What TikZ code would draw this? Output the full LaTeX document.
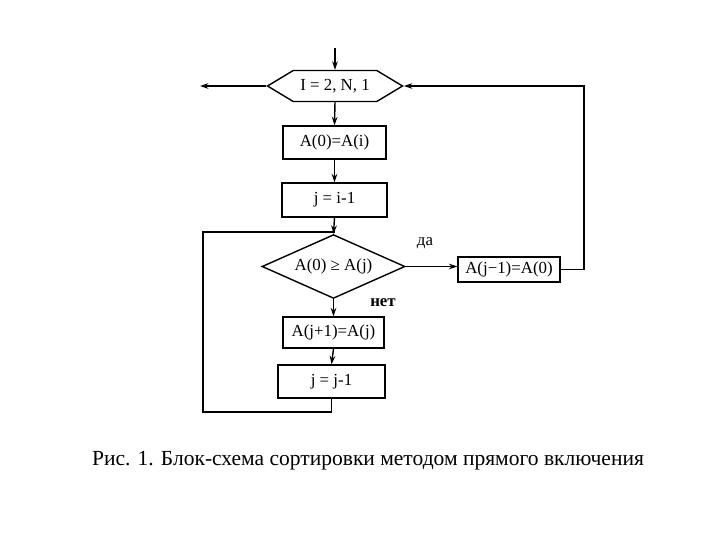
\documentclass[tikz,border=0pt]{standalone}
\usepackage{fontspec}
\setmainfont{Liberation Serif}
\usetikzlibrary{arrows.meta,shapes.geometric,shapes.symbols}

\tikzset{
  blok/.style={draw, line width=1pt, inner sep=1pt, font=\fontsize{12}{14}\selectfont},
  strel/.style={-{Stealth[length=6pt,width=4pt]}, line width=1pt},
  liniya/.style={line width=1pt}
}

\begin{document}
\begin{tikzpicture}[x=0.025cm, y=-0.025cm]
    \useasboundingbox (0,0) rectangle (720,540);

    % Заголовок цикла
    \node[blok, shape=signal, signal to=west and east, signal pointer angle=62,
          minimum width=3.375cm, minimum height=0.775cm] (cikl) at (335,86) {I = 2, N, 1};

    % Блоки
    \node[blok, minimum width=2.575cm, minimum height=0.825cm] (b1) at (334.5,142.5) {A(0)=A(i)};
    \node[blok, minimum width=2.625cm, minimum height=0.85cm] (b2) at (334.5,200) {j = i-1};
    \node[blok, shape=diamond, aspect=1.6, minimum width=3.575cm, inner sep=0pt] (usl) at (333.5,266.5) {A(0) ≥ A(j)};
    \node[blok, minimum width=2.55cm, minimum height=0.625cm] (b3) at (509,269.5) {A(j−1)=A(0)};
    \node[blok, minimum width=2.525cm, minimum height=0.775cm] (b4) at (333.5,332.5) {A(j+1)=A(j)};
    \node[blok, minimum width=2.675cm, minimum height=0.825cm] (b5) at (331.5,381.5) {j = j-1};

    % Подписи ветвей
    \node[font=\fontsize{12}{14}\selectfont] (da) at (425,243) {да};
    \node[font=\bfseries\fontsize{12}{14}\selectfont] (net) at (383,303) {нет};

    % Вспомогательные точки
    \coordinate (vhod) at (335,48);
    \coordinate (vyhod) at (200,86);
    \coordinate (ugolV) at (584,86);
    \coordinate (niz) at (203,412);
    \coordinate (styk) at (335,232);

    % Стрелки
    \draw[strel] (vhod) -- (cikl.north);
    \draw[strel] (cikl.west) -- (vyhod);
    \draw[strel] (cikl.south) -- (b1.north);
    \draw[strel] (b1.south) -- (b2.north);
    \draw[strel] (b2.south) -- (usl.north);
    \draw[strel] (usl.east) -- (usl.east -| b3.west);
    \draw[strel] (usl.south) -- (b4.north);
    \draw[strel] (b4.south) -- (b5.north);
    \draw[strel] (b3.east) -| (ugolV) -- (cikl.east);

    % Возврат во внутренний цикл
    \draw[liniya] (b5.south) |- (niz) |- (styk);

    % Подпись рисунка
    \node[font=\fontsize{15.3}{18}\selectfont] (podpis) at (368,461) {Рис. 1. Блок-схема сортировки методом прямого включения};
\end{tikzpicture}
\end{document}
